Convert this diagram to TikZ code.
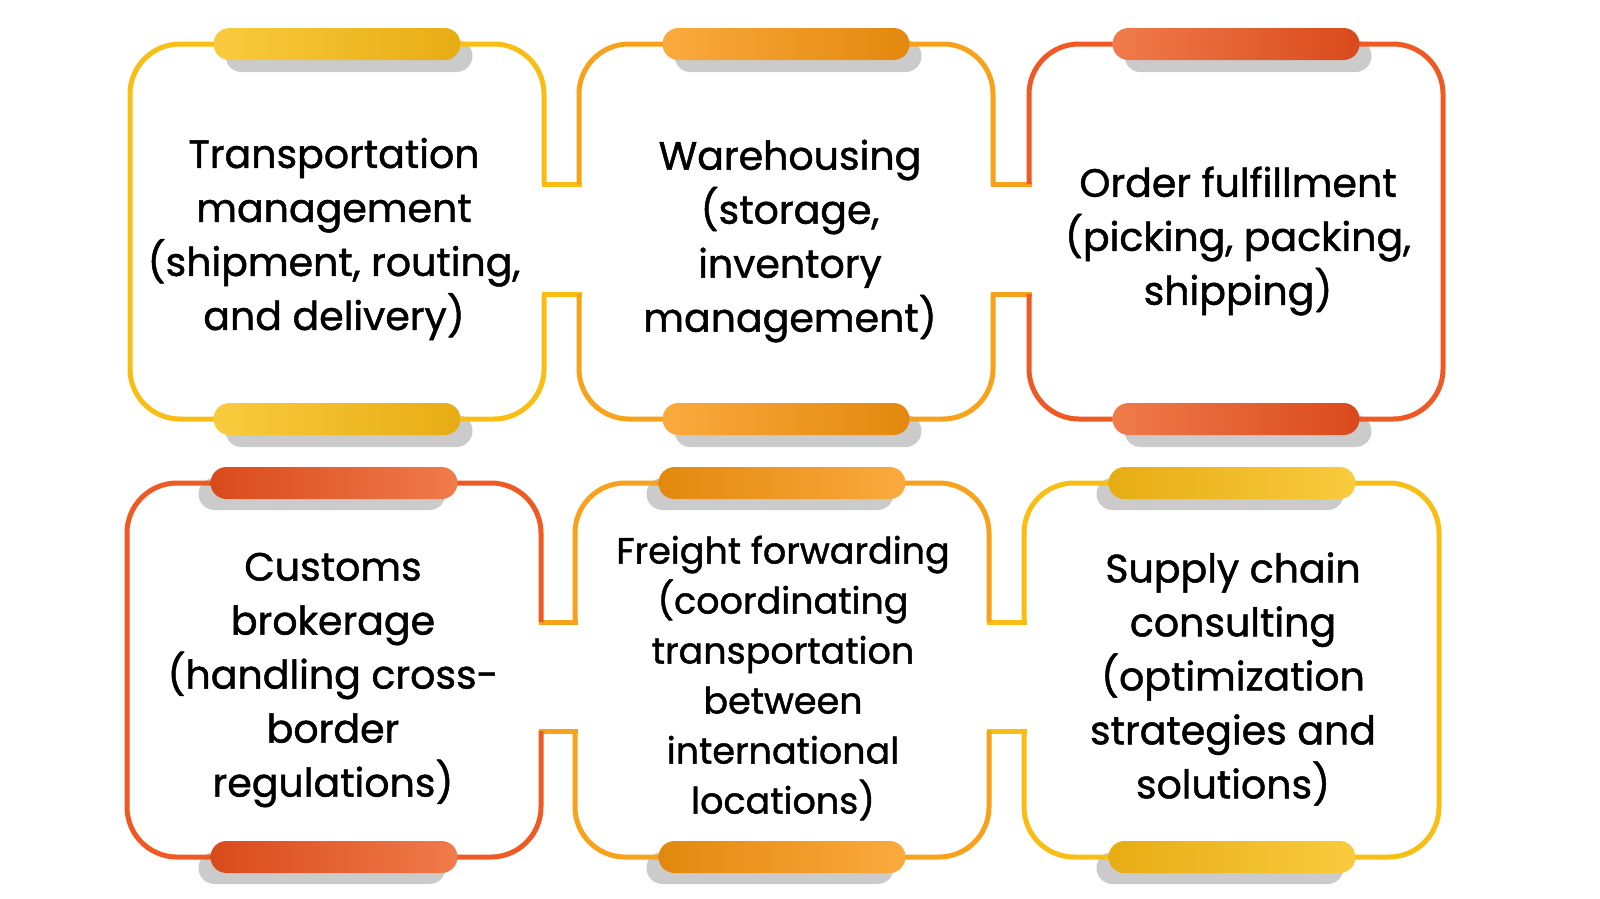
\documentclass[tikz,border=0pt]{standalone}
\usepackage{fontspec}
\setmainfont{Poppins}[RawFeature={embolden=1.2}]
\usetikzlibrary{shapes.misc}
\definecolor{cy}{HTML}{F9BE14}
\definecolor{co}{HTML}{F8A21B}
\definecolor{cr}{HTML}{EF5A24}
\definecolor{yL}{HTML}{F9CB3E}
\definecolor{yD}{HTML}{E7AC14}
\definecolor{oL}{HTML}{FBAA3E}
\definecolor{oD}{HTML}{E2880E}
\definecolor{rL}{HTML}{F07B4B}
\definecolor{rD}{HTML}{D94A1B}
\definecolor{shd}{HTML}{CBCBCB}
\tikzset{
  frame/.style={line width=5pt, rounded corners=50pt},
  notch/.style={line width=5pt, line cap=rect},
  pill/.style={rounded rectangle, minimum width=247pt, minimum height=32pt, inner sep=0pt, draw=none},
  shadowpill/.style={pill, fill=shd},
  txt/.style={align=center, font=\fontsize{39.5}{54}\selectfont, text=black, inner sep=0pt},
}
\begin{document}
\begin{tikzpicture}[x=1pt,y=-1pt]
\fill[white] (0,0) rectangle (1600,898);
\useasboundingbox (0,0) rectangle (1600,898);

% ---------- shadows ----------
\node[shadowpill] (s1t) at (349,56) {};
\node[shadowpill] (s1b) at (349,431) {};
\node[shadowpill] (s2t) at (798,56) {};
\node[shadowpill] (s2b) at (798,431) {};
\node[shadowpill] (s3t) at (1248,56) {};
\node[shadowpill] (s3b) at (1248,431) {};
\node[shadowpill] (s4t) at (322,494) {};
\node[shadowpill] (s4b) at (322,868) {};
\node[shadowpill] (s5t) at (770,494) {};
\node[shadowpill] (s5b) at (770,868) {};
\node[shadowpill] (s6t) at (1220,494) {};
\node[shadowpill] (s6b) at (1220,868) {};

% ---------- top row frames ----------
\draw[notch, cy] (544,184) -- (579,184);
\draw[notch, cy] (544,294) -- (579,294);
\draw[notch, co] (993,184) -- (1029,184);
\draw[notch, co] (993,294) -- (1029,294);
\draw[frame, cy] (544,184) -- (544,44) -- (130,44) -- (130,419) -- (544,419) -- (544,294);
\draw[frame, co] (579,184) -- (579,44) -- (993,44) -- (993,184);
\draw[frame, co] (579,294) -- (579,419) -- (993,419) -- (993,294);
\draw[frame, cr] (1029,184) -- (1029,44) -- (1443,44) -- (1443,419) -- (1029,419) -- (1029,294);

% ---------- bottom row frames ----------
\draw[notch, co] (541,622) -- (575,622);
\draw[notch, co] (541,731) -- (575,731);
\draw[notch, cy] (989,622) -- (1024,622);
\draw[notch, cy] (989,731) -- (1024,731);
\draw[frame, cr] (541,622) -- (541,483) -- (127,483) -- (127,857) -- (541,857) -- (541,731);
\draw[frame, co] (575,622) -- (575,483) -- (989,483) -- (989,622);
\draw[frame, co] (575,731) -- (575,857) -- (989,857) -- (989,731);
\draw[frame, cy] (1024,622) -- (1024,483) -- (1439,483) -- (1439,857) -- (1024,857) -- (1024,731);

% ---------- pills ----------
\node[pill, left color=yL, right color=yD] (p1t) at (337,44) {};
\node[pill, left color=yL, right color=yD] (p1b) at (337,419) {};
\node[pill, left color=oL, right color=oD] (p2t) at (786,44) {};
\node[pill, left color=oL, right color=oD] (p2b) at (786,419) {};
\node[pill, left color=rL, right color=rD] (p3t) at (1236,44) {};
\node[pill, left color=rL, right color=rD] (p3b) at (1236,419) {};
\node[pill, left color=rD, right color=rL] (p4t) at (334,483) {};
\node[pill, left color=rD, right color=rL] (p4b) at (334,857) {};
\node[pill, left color=oD, right color=oL] (p5t) at (782,483) {};
\node[pill, left color=oD, right color=oL] (p5b) at (782,857) {};
\node[pill, left color=yD, right color=yL] (p6t) at (1232,483) {};
\node[pill, left color=yD, right color=yL] (p6b) at (1232,857) {};

% ---------- texts ----------
\node[txt] (t1) at (334,239) {Transportation\\management\\(shipment, routing,\\and delivery)};
\node[txt] (t2) at (790,241) {Warehousing\\(storage,\\inventory\\management)};
\node[txt] (t3) at (1238,241) {Order fulfillment\\(picking, packing,\\shipping)};
\node[txt] (t4) at (333,680) {Customs\\brokerage\\(handling cross-\\border\\regulations)};
\node[txt, font=\fontsize{36.5}{50}\selectfont] (t5) at (783,678) {Freight forwarding\\(coordinating\\transportation\\between\\international\\locations)};
\node[txt] (t6) at (1233,679) {Supply chain\\consulting\\(optimization\\strategies and\\solutions)};
\end{tikzpicture}
\end{document}
